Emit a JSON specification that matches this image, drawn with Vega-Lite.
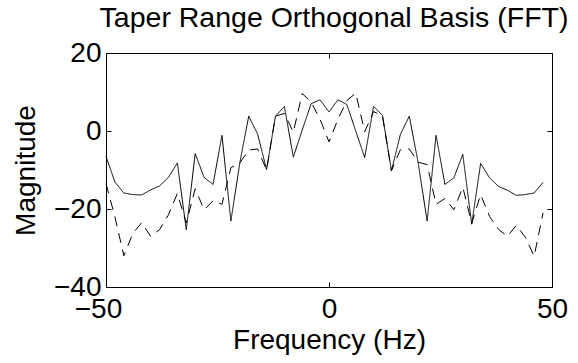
{
  "$schema": "https://vega.github.io/schema/vega-lite/v6.json",
  "width": 446,
  "height": 234,
  "autosize": {"type": "none"},
  "padding": {"left": 106, "top": 53, "right": 26, "bottom": 76},
  "background": "white",
  "title": {"text": "Taper Range Orthogonal Basis (FFT)", "font": "Liberation Sans", "fontSize": 28.5, "fontWeight": "normal", "color": "black", "anchor": "middle", "offset": 7, "dx": 5},
  "config": {
    "view": {"stroke": "black", "strokeWidth": 1},
    "axis": {"domain": false, "grid": false, "zindex": 1, "tickColor": "black", "tickWidth": 1, "labelFont": "Liberation Sans", "labelFontSize": 28, "labelColor": "black", "labelFlush": false, "labelOverlap": false, "titleFont": "Liberation Sans", "titleFontSize": 28, "titleFontWeight": "normal", "titleColor": "black"}
  },
  "datasets": {
    "d": [
      {"f": -50, "mag": -6.5, "series": "solid"},
      {"f": -48, "mag": -13.1, "series": "solid"},
      {"f": -46, "mag": -15.9, "series": "solid"},
      {"f": -44, "mag": -16.3, "series": "solid"},
      {"f": -42, "mag": -16.4, "series": "solid"},
      {"f": -40, "mag": -15.1, "series": "solid"},
      {"f": -38, "mag": -14.1, "series": "solid"},
      {"f": -36, "mag": -11.9, "series": "solid"},
      {"f": -34, "mag": -8.2, "series": "solid"},
      {"f": -32, "mag": -25.3, "series": "solid"},
      {"f": -30, "mag": -5.8, "series": "solid"},
      {"f": -28, "mag": -11.9, "series": "solid"},
      {"f": -26, "mag": -13.7, "series": "solid"},
      {"f": -24, "mag": -1.1, "series": "solid"},
      {"f": -22, "mag": -23.1, "series": "solid"},
      {"f": -20, "mag": -8.2, "series": "solid"},
      {"f": -18, "mag": 3.8, "series": "solid"},
      {"f": -16, "mag": -0.8, "series": "solid"},
      {"f": -14, "mag": -9.9, "series": "solid"},
      {"f": -12, "mag": 3.8, "series": "solid"},
      {"f": -10, "mag": 6.3, "series": "solid"},
      {"f": -8, "mag": -6.7, "series": "solid"},
      {"f": -6, "mag": 0.3, "series": "solid"},
      {"f": -4, "mag": 7.0, "series": "solid"},
      {"f": -2, "mag": 8.0, "series": "solid"},
      {"f": 0, "mag": 4.9, "series": "solid"},
      {"f": 2, "mag": 8.0, "series": "solid"},
      {"f": 4, "mag": 6.8, "series": "solid"},
      {"f": 6, "mag": 0.0, "series": "solid"},
      {"f": 8, "mag": -6.8, "series": "solid"},
      {"f": 10, "mag": 6.3, "series": "solid"},
      {"f": 12, "mag": 4.0, "series": "solid"},
      {"f": 14, "mag": -10.2, "series": "solid"},
      {"f": 16, "mag": -0.9, "series": "solid"},
      {"f": 18, "mag": 3.8, "series": "solid"},
      {"f": 20, "mag": -8.2, "series": "solid"},
      {"f": 22, "mag": -23.1, "series": "solid"},
      {"f": 24, "mag": -1.1, "series": "solid"},
      {"f": 26, "mag": -13.7, "series": "solid"},
      {"f": 28, "mag": -12.0, "series": "solid"},
      {"f": 30, "mag": -6.0, "series": "solid"},
      {"f": 32, "mag": -23.9, "series": "solid"},
      {"f": 34, "mag": -8.3, "series": "solid"},
      {"f": 36, "mag": -12.0, "series": "solid"},
      {"f": 38, "mag": -14.2, "series": "solid"},
      {"f": 40, "mag": -15.2, "series": "solid"},
      {"f": 42, "mag": -16.5, "series": "solid"},
      {"f": 44, "mag": -16.3, "series": "solid"},
      {"f": 46, "mag": -15.9, "series": "solid"},
      {"f": 48, "mag": -13.2, "series": "solid"},
      {"f": -50, "mag": -13.5, "series": "dashed"},
      {"f": -48, "mag": -22.0, "series": "dashed"},
      {"f": -46, "mag": -32.0, "series": "dashed"},
      {"f": -44, "mag": -26.3, "series": "dashed"},
      {"f": -42, "mag": -23.5, "series": "dashed"},
      {"f": -40, "mag": -27.0, "series": "dashed"},
      {"f": -38, "mag": -25.3, "series": "dashed"},
      {"f": -36, "mag": -21.5, "series": "dashed"},
      {"f": -34, "mag": -16.0, "series": "dashed"},
      {"f": -32, "mag": -23.6, "series": "dashed"},
      {"f": -30, "mag": -14.8, "series": "dashed"},
      {"f": -28, "mag": -20.2, "series": "dashed"},
      {"f": -26, "mag": -17.9, "series": "dashed"},
      {"f": -24, "mag": -18.8, "series": "dashed"},
      {"f": -22, "mag": -9.4, "series": "dashed"},
      {"f": -20, "mag": -8.2, "series": "dashed"},
      {"f": -18, "mag": -4.9, "series": "dashed"},
      {"f": -16, "mag": -4.6, "series": "dashed"},
      {"f": -14, "mag": -10.0, "series": "dashed"},
      {"f": -12, "mag": 3.8, "series": "dashed"},
      {"f": -10, "mag": 4.5, "series": "dashed"},
      {"f": -8, "mag": -0.3, "series": "dashed"},
      {"f": -6, "mag": 9.6, "series": "dashed"},
      {"f": -4, "mag": 7.4, "series": "dashed"},
      {"f": -2, "mag": 3.0, "series": "dashed"},
      {"f": 0, "mag": -2.8, "series": "dashed"},
      {"f": 2, "mag": 3.0, "series": "dashed"},
      {"f": 4, "mag": 7.8, "series": "dashed"},
      {"f": 6, "mag": 9.7, "series": "dashed"},
      {"f": 8, "mag": -0.2, "series": "dashed"},
      {"f": 10, "mag": 5.0, "series": "dashed"},
      {"f": 12, "mag": 3.8, "series": "dashed"},
      {"f": 14, "mag": -10.2, "series": "dashed"},
      {"f": 16, "mag": -4.8, "series": "dashed"},
      {"f": 18, "mag": -4.6, "series": "dashed"},
      {"f": 20, "mag": -8.0, "series": "dashed"},
      {"f": 22, "mag": -8.6, "series": "dashed"},
      {"f": 24, "mag": -18.8, "series": "dashed"},
      {"f": 26, "mag": -17.3, "series": "dashed"},
      {"f": 28, "mag": -20.2, "series": "dashed"},
      {"f": 30, "mag": -14.4, "series": "dashed"},
      {"f": 32, "mag": -23.7, "series": "dashed"},
      {"f": 34, "mag": -16.3, "series": "dashed"},
      {"f": 36, "mag": -21.9, "series": "dashed"},
      {"f": 38, "mag": -25.2, "series": "dashed"},
      {"f": 40, "mag": -27.0, "series": "dashed"},
      {"f": 42, "mag": -24.2, "series": "dashed"},
      {"f": 44, "mag": -27.2, "series": "dashed"},
      {"f": 46, "mag": -32.1, "series": "dashed"},
      {"f": 48, "mag": -21.0, "series": "dashed"}
    ]
  },
  "data": {"name": "d"},
  "layer": [
    {
      "mark": {"type": "line", "color": "black", "strokeWidth": 1},
      "encoding": {
        "x": {"field": "f", "type": "quantitative", "scale": {"domain": [-50, 50], "nice": false, "zero": false},
              "axis": {"orient": "bottom", "values": [-50, 0, 50], "tickSize": -5, "labelPadding": 13, "labelOffset": {"condition": {"test": "datum.value < 0", "value": -8}, "value": 0}, "title": "Frequency (Hz)", "titlePadding": 3}},
        "y": {"field": "mag", "type": "quantitative", "scale": {"domain": [-40, 20], "nice": false, "zero": false},
              "axis": {"orient": "left", "values": [-40, -20, 0, 20], "tickSize": -5, "labelPadding": 10, "title": "Magnitude", "titlePadding": 13}},
        "strokeDash": {"field": "series", "type": "nominal", "scale": {"domain": ["solid", "dashed"], "range": [[1, 0], [10, 7]]}, "legend": null}
      }
    },
    {
      "mark": {"type": "line", "opacity": 0},
      "encoding": {
        "x": {"field": "f", "type": "quantitative", "scale": {"domain": [-50, 50], "nice": false, "zero": false},
              "axis": {"orient": "top", "values": [-50, 0, 50], "tickSize": -5, "labels": false, "title": null}},
        "y": {"field": "mag", "type": "quantitative", "scale": {"domain": [-40, 20], "nice": false, "zero": false},
              "axis": {"orient": "right", "values": [-40, -20, 0, 20], "tickSize": -5, "labels": false, "title": null}},
        "detail": {"field": "series", "type": "nominal"}
      }
    }
  ],
  "resolve": {"axis": {"x": "independent", "y": "independent"}}
}
